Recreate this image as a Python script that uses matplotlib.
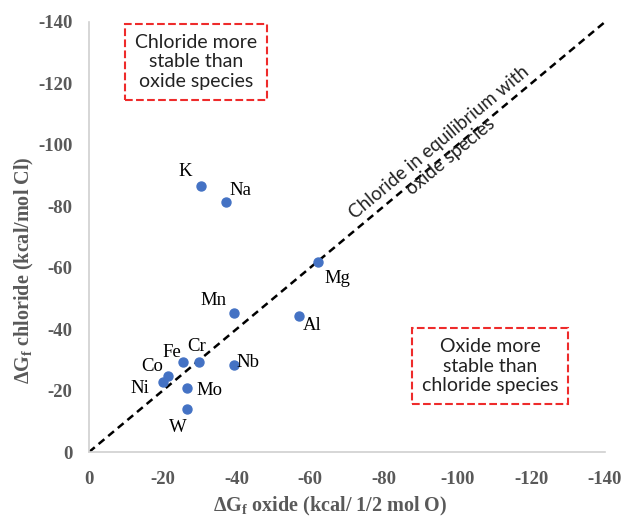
import matplotlib
matplotlib.use("Agg")
import matplotlib.pyplot as plt

# Gibbs energies of formation
elements = ["K", "Na", "Mg", "Mn", "Al", "Cr", "Fe", "Co", "Ni", "Mo", "Nb", "W"]
dg_oxide = [-30.4, -37.2, -62.1, -39.3, -57.0, -29.8, -25.5, -21.4, -20.1, -26.6, -39.3, -26.6]
dg_chloride = [-86.6, -81.4, -61.9, -45.3, -44.3, -29.3, -29.3, -24.8, -22.8, -20.8, -28.3, -14.0]

ticks = [0, -20, -40, -60, -80, -100, -120, -140]
tick_labels = [str(t) for t in ticks]
eq_line = [0, -140]

# label offsets in pixels (text centre relative to point)
offsets = {"K": (-16, 14), "Na": (14, 11), "Mg": (20, -17), "Mn": (-20, 12),
           "Al": (13, -10), "Cr": (-2, 16), "Fe": (-11, 10), "Co": (-16, 9),
           "Ni": (-23, -6), "Mo": (22, -2), "Nb": (14, 3), "W": (-9, -18)}

plt.rcParams['mathtext.fontset'] = 'custom'
plt.rcParams['mathtext.rm'] = 'Liberation Serif:bold'
plt.rcParams['mathtext.it'] = 'Liberation Serif:bold'

fig = plt.figure(figsize=(6.25, 5.22), dpi=100)
ax = fig.add_axes([0.1424, 0.134, 0.8256, 0.824])

grey = '#595959'
serif = 'Liberation Serif'
sans = 'Lato'

ax.plot(eq_line, eq_line, color='black', linestyle=(0, (3, 2)), linewidth=1.8, zorder=2)
ax.scatter(dg_oxide, dg_chloride, s=42, color='#4472C4', zorder=3)

for name, x, y in zip(elements, dg_oxide, dg_chloride):
    ax.annotate(name, (x, y), xytext=offsets[name], textcoords='offset pixels',
                ha='center', va='center', fontsize=13.5, family=serif, color='black')

ax.set_xlim(0, -140)
ax.set_ylim(0, -140)
ax.set_xticks(ticks)
ax.set_xticklabels(tick_labels)
ax.set_yticks(ticks)
ax.set_yticklabels(tick_labels)
ax.tick_params(length=0, labelsize=13.5, labelcolor=grey)
ax.tick_params(axis='x', pad=14)
ax.tick_params(axis='y', pad=12)
for lab in ax.get_xticklabels() + ax.get_yticklabels():
    lab.set_family(serif)
    lab.set_fontweight('bold')

for side in ['top', 'right']:
    ax.spines[side].set_visible(False)
for side in ['left', 'bottom']:
    ax.spines[side].set_color('#D0D0D0')
    ax.spines[side].set_linewidth(1.2)

ax.set_xlabel('ΔG$_\\mathrm{f}$ oxide (kcal/ 1/2 mol O)', fontsize=14.5,
              family=serif, fontweight='bold', color=grey)
ax.set_ylabel('ΔG$_\\mathrm{f}$ chloride (kcal/mol Cl)', fontsize=14.5,
              family=serif, fontweight='bold', color=grey)
ax.xaxis.set_label_coords(0.467, -0.1)
ax.yaxis.set_label_coords(-0.103, 0.423)

box = dict(boxstyle='square,pad=0.5', facecolor='white', edgecolor='#EE2B2B',
           linestyle='--', linewidth=1.5)
ax.text(-29.0, -127, 'Chloride more\nstable than\noxide species', ha='center', va='center',
        fontsize=14, family=sans, color='#222222', linespacing=1.2, bbox=box)
ax.text(-108.8, -28.0, 'Oxide more\nstable than\nchloride species', ha='center', va='center',
        fontsize=14, family=sans, color='#222222', linespacing=1.2, bbox=box)

ax.text(-96.5, -98.5, 'Chloride in equilibrium with\noxide species', ha='center', va='center',
        rotation=39.8, rotation_mode='anchor', fontsize=13.5, family=sans,
        color='#222222', linespacing=1.1)

fig.savefig('out.png', dpi=100)
